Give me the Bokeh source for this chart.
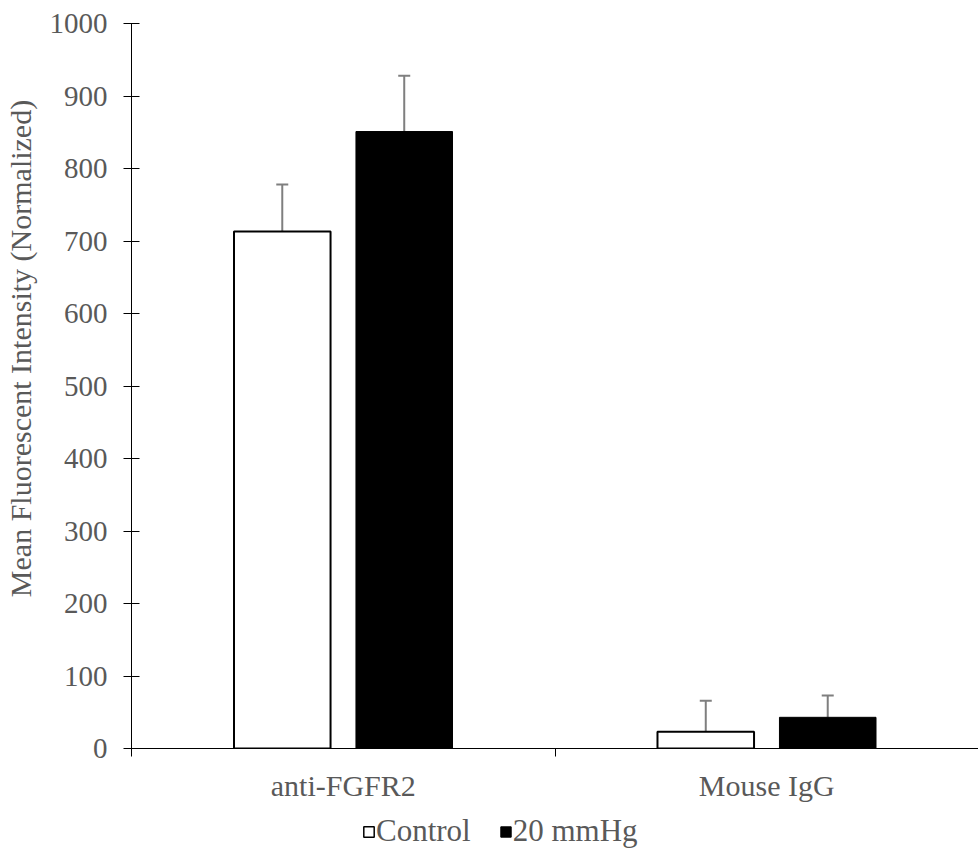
from bokeh.plotting import figure
from bokeh.layouts import column
from bokeh.models import ColumnDataSource, FixedTicker, Legend, LegendItem, Whisker, TeeHead
from bokeh.embed import file_html
from bokeh.resources import INLINE

categories = ["anti-FGFR2", "Mouse IgG"]
series = ["Control", "20 mmHg"]
control_vals = [713, 23]
control_err = [65, 43]
mmhg_vals = [851, 43]
mmhg_err = [77, 30]
y_ticks = [0, 100, 200, 300, 400, 500, 600, 700, 800, 900, 1000]

FONT = "Liberation Serif"
GRAY = "#595959"
TICK_FS = "29px"
LABEL_FS = "30px"

p = figure(width=978, height=804, x_range=(0, 2), y_range=(0, 1000),
           output_backend="svg", toolbar_location=None,
           min_border_left=131, min_border_right=0, min_border_top=23,
           min_border_bottom=56)
p.outline_line_color = None
p.grid.visible = False
p.background_fill_color = "white"

centers = [i + 0.5 for i in range(len(categories))]
bw = 0.228
off = 0.144
cx = [c - off for c in centers]
mx = [c + off for c in centers]

src_c = ColumnDataSource(dict(x=cx, top=control_vals, upper=[v + e for v, e in zip(control_vals, control_err)]))
src_m = ColumnDataSource(dict(x=mx, top=mmhg_vals, upper=[v + e for v, e in zip(mmhg_vals, mmhg_err)]))

for src in (src_c, src_m):
    w = Whisker(source=src, base="x", lower="top", upper="upper",
                line_color="#7f7f7f", line_width=2,
                upper_head=TeeHead(size=12, line_color="#7f7f7f", line_width=2),
                lower_head=None)
    p.add_layout(w)

p.vbar(x="x", top="top", bottom=0, width=bw, source=src_c,
       fill_color="white", line_color="black", line_width=2)
p.vbar(x="x", top="top", bottom=0, width=bw, source=src_m,
       fill_color="black", line_color="black", line_width=1)

# y axis
ya = p.yaxis[0]
ya.ticker = FixedTicker(ticks=y_ticks, minor_ticks=[])
ya.major_tick_in = 8
ya.major_tick_out = 8
ya.major_tick_line_color = "black"
ya.axis_line_color = "black"
ya.major_label_text_font = FONT
ya.major_label_text_font_size = TICK_FS
ya.major_label_text_color = GRAY
ya.major_label_standoff = 16
ya.axis_label = "\u00a0" * 10 + "Mean Fluorescent Intensity (Normalized)"
ya.axis_label_text_font = FONT
ya.axis_label_text_font_size = LABEL_FS
ya.axis_label_text_font_style = "normal"
ya.axis_label_text_color = GRAY
ya.axis_label_standoff = 10

# x axis
xa = p.xaxis[0]
xa.ticker = FixedTicker(ticks=centers, minor_ticks=[0, 1, 2])
xa.major_label_overrides = {c: n for c, n in zip(centers, categories)}
xa.major_tick_in = 0
xa.major_tick_out = 0
xa.minor_tick_in = 0
xa.minor_tick_out = 8
xa.minor_tick_line_color = "black"
xa.axis_line_color = "black"
xa.major_label_text_font = FONT
xa.major_label_text_font_size = LABEL_FS
xa.major_label_text_color = GRAY
xa.major_label_standoff = 12

# legend strip
pl = figure(width=978, height=46, x_range=(0, 1), y_range=(0, 1),
            output_backend="svg", toolbar_location=None,
            x_axis_location=None, y_axis_location=None,
            min_border_left=0, min_border_right=0, min_border_top=0, min_border_bottom=0)
pl.outline_line_color = None
pl.grid.visible = False
d_c = pl.vbar(x=[50], top=[-50], bottom=[-60], width=0.1,
              fill_color="white", line_color="black", line_width=1.5)
d_m = pl.vbar(x=[50], top=[-50], bottom=[-60], width=0.1,
              fill_color="black", line_color="black", line_width=1)
legend = Legend(items=[LegendItem(label=series[0], renderers=[d_c]),
                       LegendItem(label=series[1], renderers=[d_m])],
                orientation="horizontal", location=(231, 1),
                label_text_font=FONT, label_text_font_size="31px",
                label_text_color=GRAY, glyph_width=13, glyph_height=13,
                label_standoff=1, spacing=28, border_line_color=None,
                padding=0, margin=0, background_fill_alpha=0)
pl.add_layout(legend, "center")

layout = column(p, pl, spacing=0)
open("out.html", "w").write(file_html(layout, INLINE))
